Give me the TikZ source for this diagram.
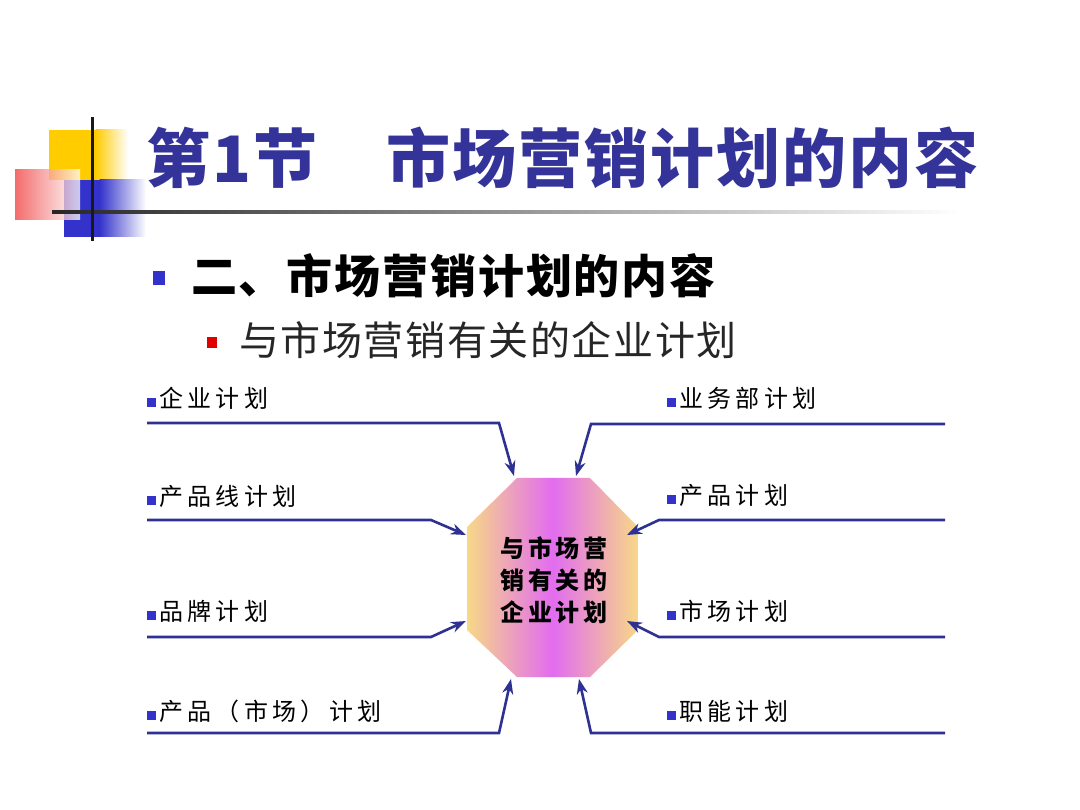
\documentclass[tikz,border=0pt]{standalone}
\usepackage{fontspec}
\usetikzlibrary{arrows.meta}
\newfontfamily\cjk{Noto Sans CJK SC}
\newfontfamily\cjktitle[LetterSpace=3]{Noto Sans CJK SC}
\newfontfamily\cjkhead[LetterSpace=4]{Noto Sans CJK SC}
\newfontfamily\cjklbl[LetterSpace=18]{Noto Sans CJK SC}
\newfontfamily\cjkoct[LetterSpace=14]{Noto Sans CJK SC}
\definecolor{titleblue}{RGB}{51,51,153}
\definecolor{linkblue}{RGB}{46,49,146}
\definecolor{bulletblue}{RGB}{51,51,204}
\definecolor{bulletred}{RGB}{224,0,0}
\definecolor{decoyellow}{RGB}{255,204,0}
\definecolor{decoblue}{RGB}{51,51,204}
\definecolor{decored}{RGB}{240,60,60}
\definecolor{octedge}{RGB}{247,216,135}
\definecolor{octmid}{RGB}{226,108,240}
\tikzset{
  conn/.style={draw=linkblue, line width=2.6pt, line join=miter,
    -{Stealth[length=15pt,width=11pt]}},
  lbl/.style={anchor=west, inner sep=0pt, font=\fontsize{24}{28}\selectfont\cjklbl},
}
\newcommand{\lblbullet}{\textcolor{bulletblue}{\rule{9pt}{9pt}}\hspace{3pt}}
\begin{document}
\begin{tikzpicture}[x=1pt,y=-1pt]
\useasboundingbox[fill=white] (0,0) rectangle (1080,810);

% ---- title decoration ----
\fill[decoyellow] (49,130) rectangle (96,180);
\shade[left color=decoyellow, right color=white] (95.5,130) rectangle (128,180);
\fill[decoblue] (64,180) rectangle (100,237);
\shade[left color=decoblue, right color=white] (99.5,180) rectangle (146,237);
\shade[left color=decored, right color=white, opacity=0.75] (15,170) rectangle (80,220);
\shade[left color=black!85, right color=white] (52,210.5) rectangle (960,214);
\fill[black!90] (90.5,117) rectangle (94,241);

% ---- title ----
\node[anchor=west, inner sep=0pt, text=titleblue,
      font=\fontsize{64}{70}\selectfont\cjktitle\bfseries] (title) at (146,158)
  {第1节\hspace{70pt}市场营销计划的内容};

% ---- heading bullets ----
\fill[bulletblue] (153,271) rectangle (165,285);
\node[anchor=west, inner sep=0pt, font=\fontsize{46}{52}\selectfont\cjkhead\bfseries] (head) at (191,276)
  {二、市场营销计划的内容};
\fill[bulletred] (207,337) rectangle (217,348);
\node[anchor=west, inner sep=0pt, text=black!85, font=\fontsize{40}{46}\selectfont\cjkhead] (sub) at (239,340)
  {与市场营销有关的企业计划};

% ---- central octagon ----
\shade[left color=octedge, right color=octedge, middle color=octmid]
  (517,478) -- (590,478) -- (638,527) -- (638,630) -- (590,677)
  -- (517,677) -- (467,630) -- (467,527) -- cycle;
\node[align=center, inner sep=0pt, font=\fontsize{24}{32}\selectfont\cjkoct\bfseries] (hub) at (554,580)
  {与市场营\\销有关的\\企业计划};

% ---- labels ----
\node[lbl] (l1) at (147,398) {\lblbullet 企业计划};
\node[lbl] (l2) at (147,496) {\lblbullet 产品线计划};
\node[lbl] (l3) at (147,611) {\lblbullet 品牌计划};
\node[lbl] (l4) at (147,711) {\lblbullet 产品（市场）计划};
\node[lbl] (r1) at (667,398) {\lblbullet 业务部计划};
\node[lbl] (r2) at (667,495) {\lblbullet 产品计划};
\node[lbl] (r3) at (667,611) {\lblbullet 市场计划};
\node[lbl] (r4) at (667,711) {\lblbullet 职能计划};

% ---- connector coordinates ----
\coordinate (sL1) at (147,423); \coordinate (bL1) at (499,423); \coordinate (tL1) at (514,476);
\coordinate (sL2) at (147,520); \coordinate (bL2) at (431,520); \coordinate (tL2) at (466,535);
\coordinate (sL3) at (147,637); \coordinate (bL3) at (431,637); \coordinate (tL3) at (466,621);
\coordinate (sL4) at (147,733); \coordinate (bL4) at (499,733); \coordinate (tL4) at (511,679);
\coordinate (sR1) at (945,424); \coordinate (bR1) at (591,424); \coordinate (tR1) at (576,476);
\coordinate (sR2) at (945,520); \coordinate (bR2) at (659,520); \coordinate (tR2) at (627,535);
\coordinate (sR3) at (945,637); \coordinate (bR3) at (659,637); \coordinate (tR3) at (627,621);
\coordinate (sR4) at (945,733); \coordinate (bR4) at (591,733); \coordinate (tR4) at (579,679);

\foreach \s in {L1,L2,L3,L4,R1,R2,R3,R4}
  \draw[conn] (s\s) -- (b\s) -- (t\s);
\end{tikzpicture}
\end{document}
